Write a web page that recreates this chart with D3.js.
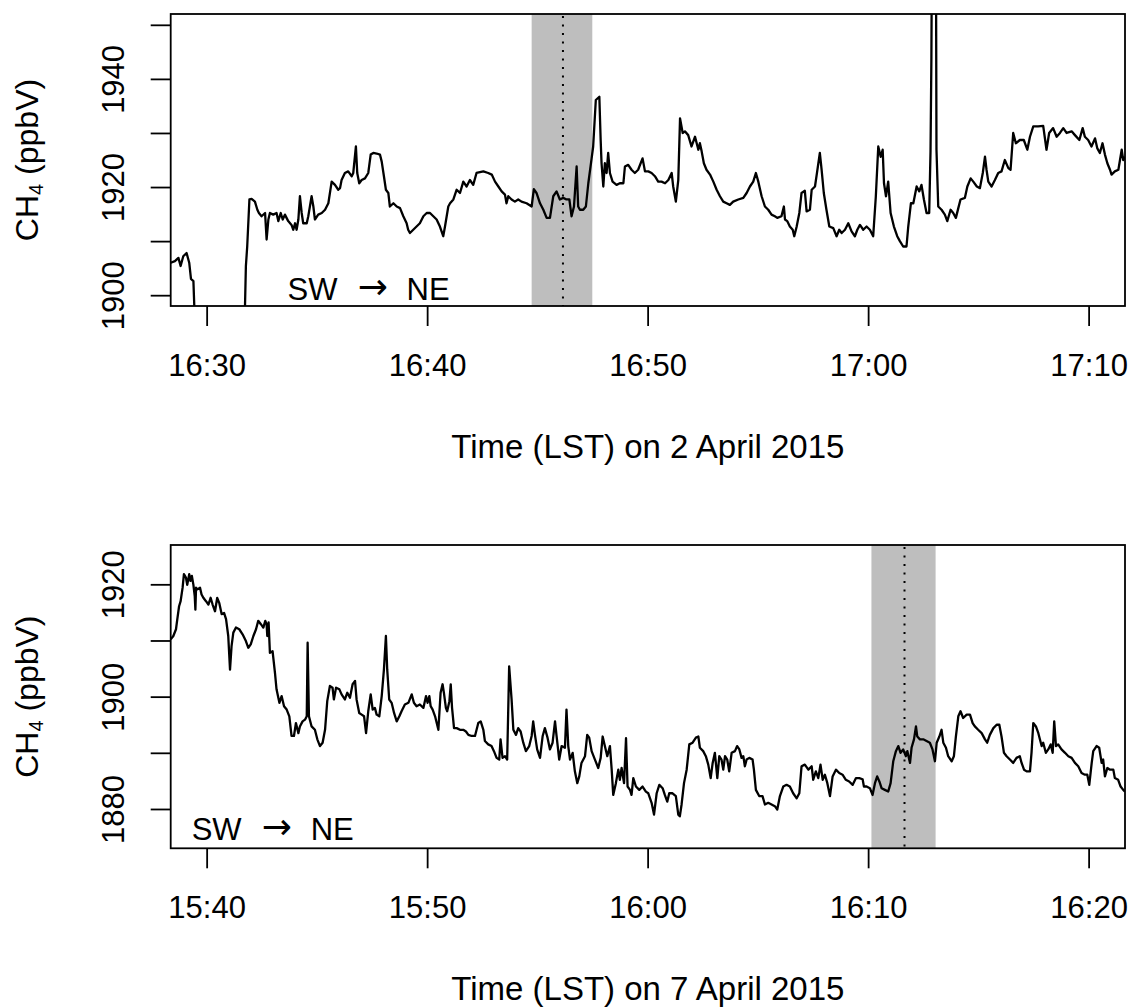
<!DOCTYPE html>
<html>
<head>
<meta charset="utf-8">
<script src="https://cdn.jsdelivr.net/npm/d3@7"></script>
<style>
  body { margin: 0; background: #fff; }
  svg text { font-family: "Liberation Sans", Arial, Helvetica, sans-serif; fill: #000; }
</style>
</head>
<body>
<svg id="chart" width="1134" height="1007"></svg>
<script>
// ---- 2 April 2015: minutes after 16:00 LST and CH4 (ppbV) ----
const minutesApr2 = [
  28.37, 28.56, 28.72, 28.82, 28.94, 29.09, 29.21, 29.29, 29.40, 29.44,
  29.50, 31.70, 31.74, 31.78, 31.84, 31.94, 32.04, 32.19, 32.30, 32.37,
  32.49, 32.65, 32.72, 32.80, 32.87, 33.02, 33.17, 33.25, 33.36, 33.45,
  33.55, 33.70, 33.85, 33.93, 34.01, 34.08, 34.16, 34.23, 34.31, 34.38,
  34.54, 34.61, 34.76, 34.84, 34.91, 35.06, 35.22, 35.37, 35.52, 35.67,
  35.82, 35.97, 36.05, 36.12, 36.27, 36.42, 36.58, 36.65, 36.77, 36.83,
  36.92, 37.03, 37.18, 37.33, 37.44, 37.56, 37.71, 37.86, 37.94, 38.04,
  38.13, 38.24, 38.31, 38.47, 38.62, 38.77, 38.92, 39.07, 39.14, 39.22,
  39.37, 39.52, 39.67, 39.83, 39.98, 40.13, 40.28, 40.43, 40.58, 40.73,
  40.81, 40.96, 41.04, 41.19, 41.34, 41.49, 41.64, 41.79, 41.94, 42.09,
  42.24, 42.55, 42.77, 42.93, 43.08, 43.23, 43.38, 43.53, 43.60, 43.68,
  43.83, 43.98, 44.13, 44.28, 44.51, 44.74, 44.84, 44.96, 45.12, 45.27,
  45.42, 45.57, 45.72, 45.87, 46.02, 46.17, 46.32, 46.45, 46.55, 46.66,
  46.78, 46.85, 46.93, 47.08, 47.20, 47.31, 47.46, 47.53, 47.65, 47.81,
  47.87, 47.91, 47.99, 48.06, 48.14, 48.21, 48.29, 48.41, 48.59, 48.74,
  48.90, 48.97, 49.12, 49.27, 49.42, 49.57, 49.77, 49.88, 50.03, 50.18,
  50.33, 50.48, 50.63, 50.79, 50.94, 51.09, 51.16, 51.28, 51.39, 51.47,
  51.59, 51.69, 51.84, 51.99, 52.15, 52.30, 52.37, 52.45, 52.55, 52.67,
  52.83, 52.98, 53.13, 53.28, 53.43, 53.58, 53.73, 53.88, 54.11, 54.34,
  54.49, 54.64, 54.79, 54.91, 55.02, 55.17, 55.32, 55.47, 55.62, 55.77,
  55.88, 56.07, 56.18, 56.23, 56.33, 56.45, 56.58, 56.65, 56.76, 56.88,
  56.98, 57.13, 57.21, 57.36, 57.44, 57.59, 57.69, 57.81, 57.89, 57.99,
  58.11, 58.24, 58.42, 58.57, 58.69, 58.80, 58.95, 59.10, 59.25, 59.40,
  59.51, 59.63, 59.78, 59.93, 60.08, 60.23, 60.35, 60.46, 60.57, 60.66,
  60.72, 60.81, 60.91, 61.02, 61.17, 61.32, 61.44, 61.59, 61.74, 61.82,
  61.94, 62.05, 62.20, 62.32, 62.42, 62.53, 62.65, 62.77, 62.83, 62.87,
  62.92, 63.06, 63.10, 63.18, 63.33, 63.48, 63.59, 63.74, 63.86, 63.98,
  64.09, 64.19, 64.39, 64.50, 64.65, 64.77, 64.93, 65.07, 65.20, 65.30,
  65.37, 65.45, 65.60, 65.75, 65.90, 66.05, 66.20, 66.36, 66.46, 66.58,
  66.70, 66.88, 67.06, 67.22, 67.34, 67.49, 67.71, 67.94, 68.09, 68.21,
  68.39, 68.55, 68.70, 68.85, 69.00, 69.23, 69.38, 69.58, 69.73, 69.83,
  69.98, 70.13, 70.29, 70.39, 70.51, 70.63, 70.74, 70.85, 70.97, 71.04,
  71.19, 71.35, 71.50, 71.57, 71.65
];
const ch4Apr2 = [
  1906.0, 1906.3, 1906.9, 1905.4, 1907.2, 1907.8, 1906.0, 1903.0, 1902.6, 1898.0,
  1885.0, 1885.0, 1898.0, 1905.4, 1909.0, 1917.7, 1917.8, 1917.3, 1915.8, 1915.2,
  1914.6, 1915.2, 1910.3, 1914.0, 1915.2, 1914.9, 1915.2, 1913.7, 1915.2, 1914.0,
  1914.9, 1913.7, 1913.0, 1912.1, 1913.3, 1912.1, 1914.0, 1918.3, 1915.2, 1913.3,
  1913.3, 1914.6, 1918.3, 1916.4, 1914.0, 1914.9, 1915.2, 1915.8, 1917.0, 1921.0,
  1920.4, 1919.5, 1919.8, 1921.3, 1922.6, 1922.9, 1922.0, 1922.6, 1927.5, 1922.6,
  1920.7, 1921.3, 1921.6, 1922.6, 1926.0, 1926.3, 1926.2, 1926.0, 1924.7, 1922.0,
  1919.5, 1918.9, 1916.4, 1917.0, 1916.4, 1916.1, 1914.6, 1913.3, 1912.1, 1911.5,
  1912.1, 1912.7, 1913.3, 1914.6, 1915.2, 1915.2, 1914.6, 1914.0, 1912.7, 1910.9,
  1912.7, 1916.4, 1917.0, 1917.7, 1919.5, 1918.9, 1921.0, 1920.1, 1921.3, 1920.4,
  1922.6, 1922.9, 1922.6, 1922.3, 1921.0, 1920.1, 1919.2, 1918.6, 1917.0, 1918.3,
  1917.7, 1917.3, 1917.7, 1917.3, 1917.0, 1916.4, 1919.6, 1918.9, 1917.0, 1915.8,
  1914.3, 1914.3, 1918.3, 1919.2, 1917.7, 1918.0, 1917.7, 1917.7, 1914.6, 1916.4,
  1923.8, 1916.4, 1915.8, 1915.8, 1916.4, 1920.7, 1925.3, 1927.5, 1936.1, 1936.7,
  1928.7, 1924.4, 1920.1, 1924.4, 1922.6, 1926.3, 1922.6, 1921.0, 1920.4, 1920.7,
  1920.7, 1923.8, 1924.1, 1923.2, 1922.6, 1923.2, 1925.3, 1922.9, 1922.9, 1922.6,
  1922.0, 1921.0, 1921.0, 1920.7, 1921.3, 1922.6, 1920.1, 1917.3, 1921.3, 1932.7,
  1930.0, 1930.3, 1929.6, 1927.5, 1929.3, 1926.9, 1928.1, 1926.6, 1924.4, 1923.2,
  1922.3, 1921.0, 1919.5, 1918.3, 1917.3, 1917.0, 1916.7, 1917.3, 1917.7, 1918.0,
  1918.9, 1920.1, 1921.0, 1922.6, 1921.0, 1918.3, 1916.4, 1915.8, 1914.9, 1914.6,
  1914.3, 1914.6, 1916.4, 1914.0, 1913.7, 1912.7, 1912.1, 1910.9, 1912.7, 1915.2,
  1918.9, 1919.3, 1915.5, 1915.8, 1919.5, 1920.1, 1922.9, 1926.3, 1923.2, 1918.9,
  1915.8, 1912.7, 1912.4, 1910.9, 1912.1, 1911.5, 1912.1, 1913.3, 1911.8, 1910.9,
  1912.1, 1913.0, 1912.1, 1912.7, 1912.1, 1910.9, 1918.3, 1927.5, 1925.6, 1926.9,
  1920.7, 1918.3, 1921.0, 1915.2, 1912.7, 1910.9, 1910.0, 1909.0, 1909.0, 1912.7,
  1917.0, 1917.0, 1920.1, 1919.2, 1920.4, 1917.7, 1915.2, 1915.2, 1926.6, 1944.0,
  1990.0, 1990.0, 1926.9, 1916.4, 1915.8, 1914.9, 1913.7, 1915.8, 1915.2, 1914.3,
  1916.1, 1917.7, 1918.0, 1920.1, 1921.6, 1921.0, 1920.1, 1919.8, 1922.6, 1925.6,
  1923.2, 1921.0, 1920.1, 1921.3, 1922.6, 1922.9, 1925.0, 1923.5, 1923.2, 1930.0,
  1928.1, 1928.7, 1928.7, 1926.9, 1929.3, 1931.2, 1931.2, 1931.3, 1926.9, 1930.0,
  1930.9, 1929.3, 1930.0, 1930.9, 1930.0, 1930.3, 1929.6, 1928.7, 1930.9, 1929.3,
  1928.7, 1927.5, 1929.0, 1927.2, 1926.3, 1928.1, 1926.0, 1924.4, 1923.2, 1922.3,
  1922.9, 1923.2, 1926.9, 1925.0, 1925.6
];

// ---- 7 April 2015: minutes after 15:00 LST and CH4 (ppbV) ----
const minutesApr7 = [
  38.37, 38.49, 38.61, 38.67, 38.75, 38.82, 38.91, 38.97, 39.06, 39.12,
  39.21, 39.27, 39.33, 39.40, 39.46, 39.49, 39.52, 39.58, 39.70, 39.77,
  39.85, 39.97, 40.08, 40.18, 40.27, 40.38, 40.48, 40.57, 40.68, 40.79,
  40.88, 40.98, 41.06, 41.13, 41.21, 41.33, 41.48, 41.63, 41.78, 41.89,
  42.00, 42.12, 42.24, 42.34, 42.46, 42.57, 42.66, 42.72, 42.75, 42.81,
  42.87, 42.99, 43.10, 43.17, 43.30, 43.40, 43.51, 43.63, 43.75, 43.85,
  43.96, 44.05, 44.16, 44.23, 44.35, 44.46, 44.54, 44.58, 44.64, 44.76,
  44.91, 45.02, 45.14, 45.26, 45.37, 45.47, 45.59, 45.71, 45.77, 45.87,
  46.02, 46.12, 46.27, 46.38, 46.50, 46.62, 46.73, 46.80, 46.92, 47.03,
  47.14, 47.23, 47.33, 47.44, 47.53, 47.63, 47.71, 47.83, 47.94, 48.04,
  48.13, 48.19, 48.28, 48.39, 48.50, 48.62, 48.74, 48.84, 48.99, 49.15,
  49.30, 49.40, 49.52, 49.67, 49.83, 49.95, 50.02, 50.10, 50.16, 50.25,
  50.36, 50.51, 50.61, 50.70, 50.76, 50.85, 50.91, 51.01, 51.07, 51.13,
  51.22, 51.34, 51.49, 51.64, 51.76, 51.87, 52.02, 52.17, 52.32, 52.43,
  52.55, 52.62, 52.77, 52.92, 53.03, 53.15, 53.27, 53.33, 53.42, 53.53,
  53.63, 53.72, 53.83, 53.91, 54.03, 54.13, 54.24, 54.36, 54.48, 54.63,
  54.74, 54.81, 54.89, 54.99, 55.12, 55.24, 55.34, 55.46, 55.57, 55.69,
  55.80, 55.87, 55.99, 56.10, 56.25, 56.32, 56.40, 56.48, 56.60, 56.70,
  56.81, 56.90, 57.00, 57.16, 57.26, 57.35, 57.46, 57.61, 57.76, 57.87,
  57.96, 58.06, 58.17, 58.29, 58.37, 58.44, 58.56, 58.67, 58.74, 58.82,
  58.93, 59.02, 59.09, 59.20, 59.27, 59.35, 59.47, 59.62, 59.77, 59.92,
  60.03, 60.18, 60.29, 60.41, 60.53, 60.68, 60.78, 60.89, 60.98, 61.13,
  61.28, 61.39, 61.46, 61.54, 61.65, 61.77, 61.89, 62.04, 62.19, 62.30,
  62.37, 62.52, 62.64, 62.75, 62.86, 62.95, 63.05, 63.16, 63.25, 63.35,
  63.43, 63.51, 63.61, 63.70, 63.81, 63.96, 64.06, 64.16, 64.26, 64.34,
  64.41, 64.49, 64.61, 64.76, 64.82, 64.91, 65.06, 65.21, 65.32, 65.47,
  65.62, 65.77, 65.88, 66.00, 66.15, 66.30, 66.45, 66.60, 66.76, 66.88,
  66.98, 67.13, 67.29, 67.44, 67.51, 67.63, 67.74, 67.84, 67.94, 68.04,
  68.15, 68.27, 68.39, 68.54, 68.69, 68.84, 68.99, 69.14, 69.30, 69.45,
  69.60, 69.75, 69.81, 69.93, 70.08, 70.20, 70.31, 70.41, 70.51, 70.61,
  70.76, 70.91, 71.02, 71.14, 71.26, 71.37, 71.47, 71.59, 71.71, 71.78,
  71.90, 71.97, 72.08, 72.17, 72.23, 72.35, 72.50, 72.65, 72.80, 72.92,
  73.03, 73.11, 73.23, 73.33, 73.41, 73.53, 73.63, 73.79, 73.89, 73.98,
  74.09, 74.19, 74.31, 74.47, 74.62, 74.74, 74.84, 74.99, 75.15, 75.30,
  75.40, 75.52, 75.68, 75.83, 75.95, 76.05, 76.16, 76.28, 76.43, 76.58,
  76.73, 76.88, 76.96, 77.07, 77.19, 77.34, 77.41, 77.49, 77.61, 77.72,
  77.79, 77.87, 77.94, 78.06, 78.17, 78.28, 78.37, 78.44, 78.52, 78.62,
  78.77, 78.93, 79.08, 79.23, 79.38, 79.53, 79.68, 79.83, 79.94, 80.03,
  80.14, 80.21, 80.36, 80.48, 80.59, 80.66, 80.74, 80.85, 80.97, 81.12,
  81.19, 81.34, 81.45, 81.57, 81.65
];
const ch4Apr7 = [
  1910.2, 1910.8, 1912.0, 1913.8, 1916.1, 1917.0, 1919.4, 1921.8, 1921.2, 1919.9,
  1921.8, 1920.6, 1921.5, 1919.9, 1917.9, 1915.5, 1919.4, 1919.1, 1919.4, 1918.2,
  1917.6, 1917.0, 1916.4, 1917.6, 1916.4, 1915.2, 1917.6, 1916.7, 1914.7, 1914.9,
  1913.8, 1910.8, 1904.8, 1909.0, 1911.4, 1912.3, 1912.0, 1911.1, 1909.9, 1908.7,
  1909.3, 1910.8, 1912.0, 1913.5, 1912.9, 1912.3, 1913.5, 1912.9, 1910.8, 1913.2,
  1907.8, 1908.1, 1904.2, 1901.3, 1898.9, 1900.1, 1898.3, 1897.7, 1896.5, 1893.0,
  1893.0, 1895.3, 1893.5, 1894.7, 1895.6, 1895.9, 1896.5, 1909.6, 1896.5, 1894.7,
  1894.1, 1892.4, 1891.2, 1891.8, 1894.1, 1899.2, 1901.9, 1901.6, 1899.5, 1901.6,
  1901.3, 1900.4, 1899.5, 1900.7, 1899.8, 1902.2, 1902.8, 1899.5, 1897.1, 1896.8,
  1896.5, 1893.5, 1897.4, 1900.4, 1897.7, 1898.0, 1896.8, 1896.5, 1900.1, 1904.8,
  1910.8, 1904.8, 1899.5, 1898.9, 1897.1, 1895.6, 1896.5, 1897.4, 1898.6, 1898.9,
  1900.4, 1898.9, 1898.3, 1898.6, 1898.0, 1900.1, 1898.9, 1900.1, 1898.3, 1897.7,
  1896.5, 1894.1, 1900.7, 1902.2, 1900.7, 1898.0, 1897.4, 1899.2, 1902.2, 1898.0,
  1894.4, 1894.4, 1894.1, 1894.1, 1893.8, 1893.2, 1893.0, 1893.0, 1895.3, 1895.6,
  1894.1, 1892.1, 1891.5, 1891.2, 1890.3, 1889.1, 1888.8, 1892.4, 1889.1, 1889.4,
  1888.8, 1905.4, 1899.5, 1894.1, 1893.2, 1894.4, 1893.8, 1891.8, 1890.3, 1891.2,
  1893.0, 1895.6, 1893.2, 1890.6, 1889.1, 1893.0, 1894.4, 1892.7, 1890.6, 1891.8,
  1895.6, 1893.0, 1888.8, 1891.2, 1890.9, 1897.7, 1891.2, 1888.8, 1890.0, 1886.7,
  1884.6, 1885.8, 1888.2, 1889.4, 1893.2, 1892.7, 1890.3, 1888.8, 1887.3, 1889.1,
  1892.9, 1891.2, 1889.4, 1891.2, 1887.0, 1882.5, 1884.6, 1887.0, 1885.2, 1887.3,
  1884.6, 1892.6, 1884.0, 1883.4, 1882.5, 1885.5, 1884.0, 1883.4, 1884.0, 1883.1,
  1882.8, 1881.1, 1879.0, 1882.8, 1884.3, 1883.7, 1882.5, 1881.3, 1882.8, 1882.8,
  1882.3, 1879.0, 1878.7, 1880.8, 1884.6, 1887.0, 1891.5, 1891.8, 1892.7, 1892.9,
  1890.9, 1890.3, 1889.4, 1887.9, 1885.5, 1888.2, 1890.0, 1885.5, 1889.4, 1888.8,
  1887.0, 1889.4, 1888.8, 1886.7, 1890.0, 1890.3, 1891.2, 1890.6, 1889.1, 1889.4,
  1887.6, 1888.8, 1889.1, 1888.8, 1887.0, 1883.4, 1882.3, 1882.3, 1880.8, 1881.1,
  1880.8, 1880.5, 1879.9, 1882.3, 1884.0, 1884.3, 1884.0, 1882.8, 1881.9, 1882.8,
  1887.6, 1887.9, 1887.0, 1887.6, 1885.2, 1886.7, 1885.5, 1887.9, 1885.2, 1886.1,
  1884.6, 1882.3, 1885.8, 1887.0, 1886.4, 1886.1, 1885.2, 1884.9, 1884.3, 1885.5,
  1885.5, 1885.3, 1884.0, 1884.0, 1883.7, 1882.5, 1884.6, 1885.8, 1884.9, 1883.7,
  1883.4, 1883.1, 1884.6, 1888.5, 1890.3, 1891.2, 1890.0, 1890.6, 1889.4, 1890.3,
  1888.2, 1890.9, 1892.4, 1894.7, 1892.9, 1892.4, 1892.4, 1892.1, 1891.8, 1890.6,
  1888.5, 1891.8, 1892.9, 1894.1, 1891.8, 1890.9, 1889.4, 1888.5, 1889.4, 1892.9,
  1896.5, 1897.4, 1896.2, 1896.8, 1896.8, 1895.3, 1894.7, 1894.1, 1893.5, 1892.4,
  1891.8, 1893.2, 1894.4, 1895.0, 1895.0, 1892.9, 1890.0, 1889.4, 1888.8, 1888.2,
  1889.1, 1889.4, 1888.2, 1887.0, 1886.7, 1886.7, 1890.0, 1895.3, 1894.7, 1893.5,
  1892.4, 1891.2, 1891.8, 1890.0, 1890.6, 1891.5, 1890.0, 1895.6, 1891.2, 1891.5,
  1890.6, 1890.0, 1889.4, 1889.1, 1888.2, 1887.6, 1886.4, 1886.1, 1886.1, 1884.3,
  1888.2, 1890.3, 1891.2, 1890.9, 1888.2, 1888.8, 1885.8, 1887.3, 1887.0, 1887.0,
  1885.5, 1885.2, 1884.0, 1883.4, 1883.1
];

// Axis settings and highlighted windows
const yDomainApr2 = [1898, 1952];
const yTicksApr2 = [1900, 1910, 1920, 1930, 1940, 1950];
const yLabelsApr2 = [1900, 1920, 1940];
const shadeApr2 = [44.74, 47.49];   // minutes after 16:00
const markApr2 = 46.16;

const yDomainApr7 = [1873, 1927];
const yTicksApr7 = [1880, 1890, 1900, 1910, 1920];
const yLabelsApr7 = [1880, 1900, 1920];
const shadeApr7 = [70.15, 73.06];   // minutes after 15:00
const markApr7 = 71.65;

const titles = ["Time (LST) on 2 April 2015", "Time (LST) on 7 April 2015"];
const directionNote = ["SW", "\u2192", "NE"];

const svg = d3.select("#chart");
svg.append("rect").attr("width", 1134).attr("height", 1007).attr("fill", "#fff");

const LEFT = 170.7, RIGHT = 1125;

function drawPanel(p) {
  const at = m => new Date(p.base.getTime() + m * 60000);
  const x = d3.scaleTime().domain(d3.extent(p.minutes).map(at)).range([LEFT, RIGHT]);
  const y = d3.scaleLinear().domain(p.yDomain).range([p.bottom, p.top]);
  const g = svg.append("g");

  g.append("clipPath").attr("id", "clip-" + p.id)
    .append("rect").attr("x", LEFT).attr("y", p.top)
    .attr("width", RIGHT - LEFT).attr("height", p.bottom - p.top);

  // highlighted window and its centre
  const x0 = x(at(p.shade[0])), x1 = x(at(p.shade[1]));
  g.append("rect").attr("x", x0).attr("width", x1 - x0)
    .attr("y", p.top).attr("height", p.bottom - p.top).attr("fill", "#bebebe");
  g.append("line").attr("x1", x(at(p.mark))).attr("x2", x(at(p.mark)))
    .attr("y1", p.top + 2).attr("y2", p.bottom)
    .attr("stroke", "#000").attr("stroke-width", 2).attr("stroke-dasharray", "2 6.5");

  // CH4 time series
  const line = d3.line().x(d => x(at(d[0]))).y(d => y(d[1]));
  g.append("path").datum(d3.zip(p.minutes, p.values))
    .attr("clip-path", `url(#clip-${p.id})`)
    .attr("d", line).attr("fill", "none").attr("stroke", "#000")
    .attr("stroke-width", 2.3).attr("stroke-linejoin", "round");

  // frame
  g.append("rect").attr("x", LEFT).attr("y", p.top)
    .attr("width", RIGHT - LEFT).attr("height", p.bottom - p.top)
    .attr("fill", "none").attr("stroke", "#000").attr("stroke-width", 1.8);

  // x axis
  g.append("g").attr("transform", `translate(0,${p.bottom})`)
    .call(d3.axisBottom(x).ticks(d3.timeMinute.every(10))
      .tickFormat(d3.timeFormat("%H:%M")).tickSize(20).tickPadding(28))
    .call(a => {
      a.select(".domain").remove();
      a.selectAll(".tick line").attr("stroke", "#000").attr("stroke-width", 1.8);
      a.selectAll(".tick text").attr("font-size", 31).attr("fill", "#000")
        .style("font-family", '"Liberation Sans", Arial, sans-serif');
    });

  // y axis, labels written parallel to the axis
  g.append("g").attr("transform", `translate(${LEFT},0)`)
    .call(d3.axisLeft(y).tickValues(p.yTicks)
      .tickFormat(d => p.yLabels.includes(d) ? d : "").tickSize(20))
    .call(a => {
      a.select(".domain").remove();
      a.selectAll(".tick line").attr("stroke", "#000").attr("stroke-width", 1.8);
      a.selectAll(".tick text").attr("font-size", 31).attr("fill", "#000")
        .style("font-family", '"Liberation Sans", Arial, sans-serif')
        .attr("x", 0).attr("y", -(LEFT - 124)).attr("dy", 0)
        .attr("text-anchor", "middle").attr("transform", "rotate(-90)");
    });

  // axis titles
  g.append("text").attr("x", (LEFT + RIGHT) / 2).attr("y", p.bottom + 152)
    .attr("text-anchor", "middle").attr("font-size", 33).text(p.title);

  const yt = g.append("text")
    .attr("transform", `translate(38,${(p.top + p.bottom) / 2}) rotate(-90)`)
    .attr("text-anchor", "middle").attr("font-size", 32);
  yt.append("tspan").text("CH");
  yt.append("tspan").attr("font-size", 20).attr("dy", 5).text("4");
  yt.append("tspan").attr("dy", -5).text(" (ppbV)");

  // transect direction
  const nx = x(at(p.note[0])), ny = y(p.note[1]);
  const nt = g.append("text").attr("y", ny).attr("font-size", 31);
  nt.append("tspan").attr("x", nx).text(directionNote[0]);
  nt.append("tspan").attr("x", nx + 85.3).attr("dy", -1).attr("text-anchor", "middle")
    .style("font-family", '"DejaVu Sans", sans-serif').attr("font-size", 36)
    .text(directionNote[1]);
  nt.append("tspan").attr("x", nx + 119).attr("dy", 1).text(directionNote[2]);
}

drawPanel({
  id: "apr2", base: new Date(2015, 3, 2, 16, 0),
  minutes: minutesApr2, values: ch4Apr2,
  yDomain: yDomainApr2, yTicks: yTicksApr2, yLabels: yLabelsApr2,
  shade: shadeApr2, mark: markApr2, title: titles[0],
  note: [33.67, 1899.1], top: 14, bottom: 306
});
drawPanel({
  id: "apr7", base: new Date(2015, 3, 7, 15, 0),
  minutes: minutesApr7, values: ch4Apr7,
  yDomain: yDomainApr7, yTicks: yTicksApr7, yLabels: yLabelsApr7,
  shade: shadeApr7, mark: markApr7, title: titles[1],
  note: [39.32, 1874.5], top: 545, bottom: 848.3
});
</script>
</body>
</html>
